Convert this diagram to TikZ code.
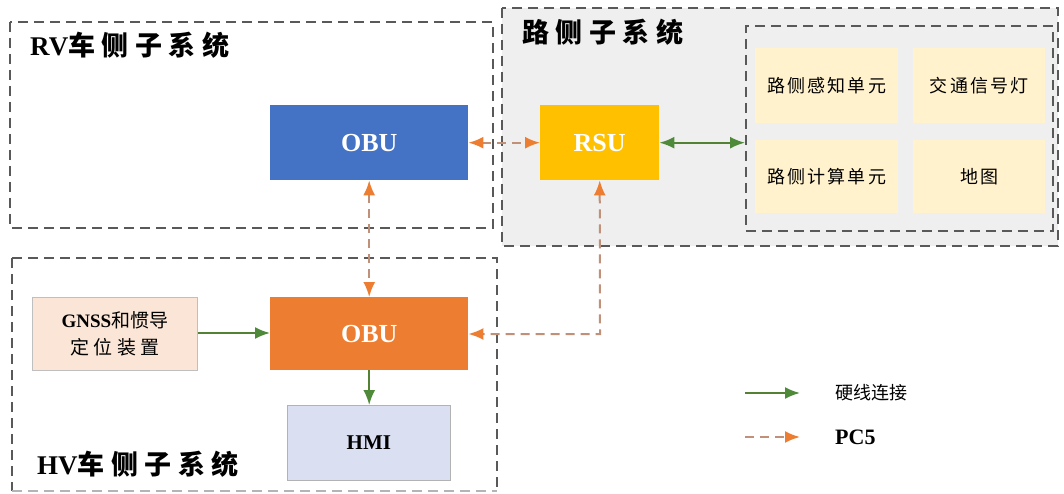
\documentclass[tikz,border=0pt]{standalone}
\usepackage{fontspec}
\setmainfont{Liberation Serif}
\newfontfamily\cjk{Noto Sans CJK SC}
\newfontfamily\cjksp[LetterSpace=24]{Noto Sans CJK SC}
\newfontfamily\cjkcell[LetterSpace=12]{Noto Sans CJK SC}
\usetikzlibrary{arrows.meta}
\definecolor{obublue}{HTML}{4472C4}
\definecolor{rsuyel}{HTML}{FFC000}
\definecolor{obuor}{HTML}{ED7D31}
\definecolor{gnssfill}{HTML}{FBE5D6}
\definecolor{hmifill}{HTML}{DAE0F2}
\definecolor{cellfill}{HTML}{FFF2CC}
\definecolor{roadbg}{HTML}{EFEFEF}
\definecolor{wire}{HTML}{548235}
\definecolor{wiretip}{HTML}{4E8A3A}
\definecolor{pcline}{HTML}{C09078}
\definecolor{boxline}{HTML}{595959}
\begin{document}
\begin{tikzpicture}[x=1pt,y=-1pt,
  groupbox/.style={draw=boxline,line width=1.8pt,dash pattern=on 10pt off 6pt},
  blk/.style={draw=none,inner sep=0pt,anchor=north west},
  cell/.style={fill=cellfill,draw=none,inner sep=0pt,anchor=north west,minimum width=143pt,minimum height=75pt,font=\cjkcell\fontsize{18}{20}\selectfont},
  wirearrow/.style={draw=wire,line width=2pt,-{Latex[length=15pt,width=12pt,color=wiretip]}},
  wirebi/.style={draw=wire,line width=2pt,{Latex[length=15pt,width=12pt,color=wiretip]}-{Latex[length=15pt,width=12pt,color=wiretip]}},
  pcbi/.style={draw=pcline,line width=2pt,dash pattern=on 9pt off 6pt,{Latex[length=15pt,width=12pt,color=obuor]}-{Latex[length=15pt,width=12pt,color=obuor]}},
  pcarrow/.style={draw=pcline,line width=2pt,dash pattern=on 9pt off 6pt,-{Latex[length=15pt,width=12pt,color=obuor]}},
  title/.style={anchor=north west,inner sep=0pt,font=\fontsize{27}{29}\selectfont\bfseries}
]
\useasboundingbox (0,0) rectangle (1064,494);
% road subsystem background
\filldraw[fill=roadbg,groupbox] (502,8) rectangle (1058,246);
\node[groupbox,fill=none,inner sep=0pt,anchor=north west,minimum width=307pt,minimum height=205pt] (inner) at (745,25) {};
% RV box
\draw[groupbox] (10,22) rectangle (493,228);
% HV box
\draw[groupbox] (12,258) -- (497,258) -- (497,491);
\draw[groupbox] (12,258) -- (12,491);
\draw[groupbox,draw=boxline!45] (12,491) -- (497,491);
% titles
\node[title] (rvt) at (30,32) {RV{\cjksp 车侧子系统}};
\node[title] (rdt) at (522,19) {\cjksp\bfseries 路侧子系统};
\node[title] (hvt) at (37,451) {HV{\cjksp 车侧子系统}};
% cells
\node[cell] (c1) at (755,48) {路侧感知单元};
\node[cell] (c2) at (913,48) [minimum width=132pt] {交通信号灯};
\node[cell] (c3) at (755,140) [minimum height=73pt] {路侧计算单元};
\node[cell] (c4) at (913,140) [minimum width=132pt,minimum height=73pt] {地图};
% blocks
\node[blk,fill=obublue,minimum width=198pt,minimum height=75pt,text=white,font=\fontsize{26}{28}\selectfont\bfseries] (rvobu) at (270,105) {OBU};
\node[blk,fill=rsuyel,minimum width=119pt,minimum height=75pt,text=white,font=\fontsize{26}{28}\selectfont\bfseries] (rsu) at (540,105) {RSU};
\node[blk,fill=obuor,minimum width=198pt,minimum height=73pt,text=white,font=\fontsize{26}{28}\selectfont\bfseries] (hvobu) at (270,297) {OBU};
\node[blk,fill=gnssfill,draw=black!25,line width=0.8pt,minimum width=165pt,minimum height=73pt,align=center,font=\fontsize{19}{27}\selectfont\bfseries] (gnss) at (32,297) {GNSS{\cjk\mdseries 和惯导}\\{\cjksp\mdseries 定位装置}};
\node[blk,fill=hmifill,draw=black!30,line width=0.8pt,minimum width=163pt,minimum height=75pt,font=\fontsize{21}{24}\selectfont\bfseries] (hmi) at (287,405) {HMI};
% connectors
\draw[pcbi] (rvobu.east) -- (rsu.west);
\draw[wirebi] (rsu.east) -- (inner.west |- rsu.east);
\draw[pcbi] (rvobu.south) -- (hvobu.north);
\coordinate (bend) at (600,334);
\draw[pcbi] (rsu.south) -- (bend) -- (hvobu.east |- bend);
\draw[wirearrow] (gnss.east |- 0,333) -- (hvobu.west |- 0,333);
\draw[wirearrow] (hvobu.south) -- (hmi.north -| hvobu.south);
% legend
\coordinate (l1a) at (745,393);
\coordinate (l1b) at (800,393);
\coordinate (l2a) at (745,437);
\coordinate (l2b) at (800,437);
\draw[wirearrow] (l1a) -- (l1b);
\draw[pcarrow] (l2a) -- (l2b);
\node[anchor=west,inner sep=0pt,font=\cjk\fontsize{18}{20}\selectfont] (lg1) at (835,393) {硬线连接};
\node[anchor=west,inner sep=0pt,font=\fontsize{22}{24}\selectfont\bfseries] (lg2) at (835,437) {PC5};
\end{tikzpicture}
\end{document}
